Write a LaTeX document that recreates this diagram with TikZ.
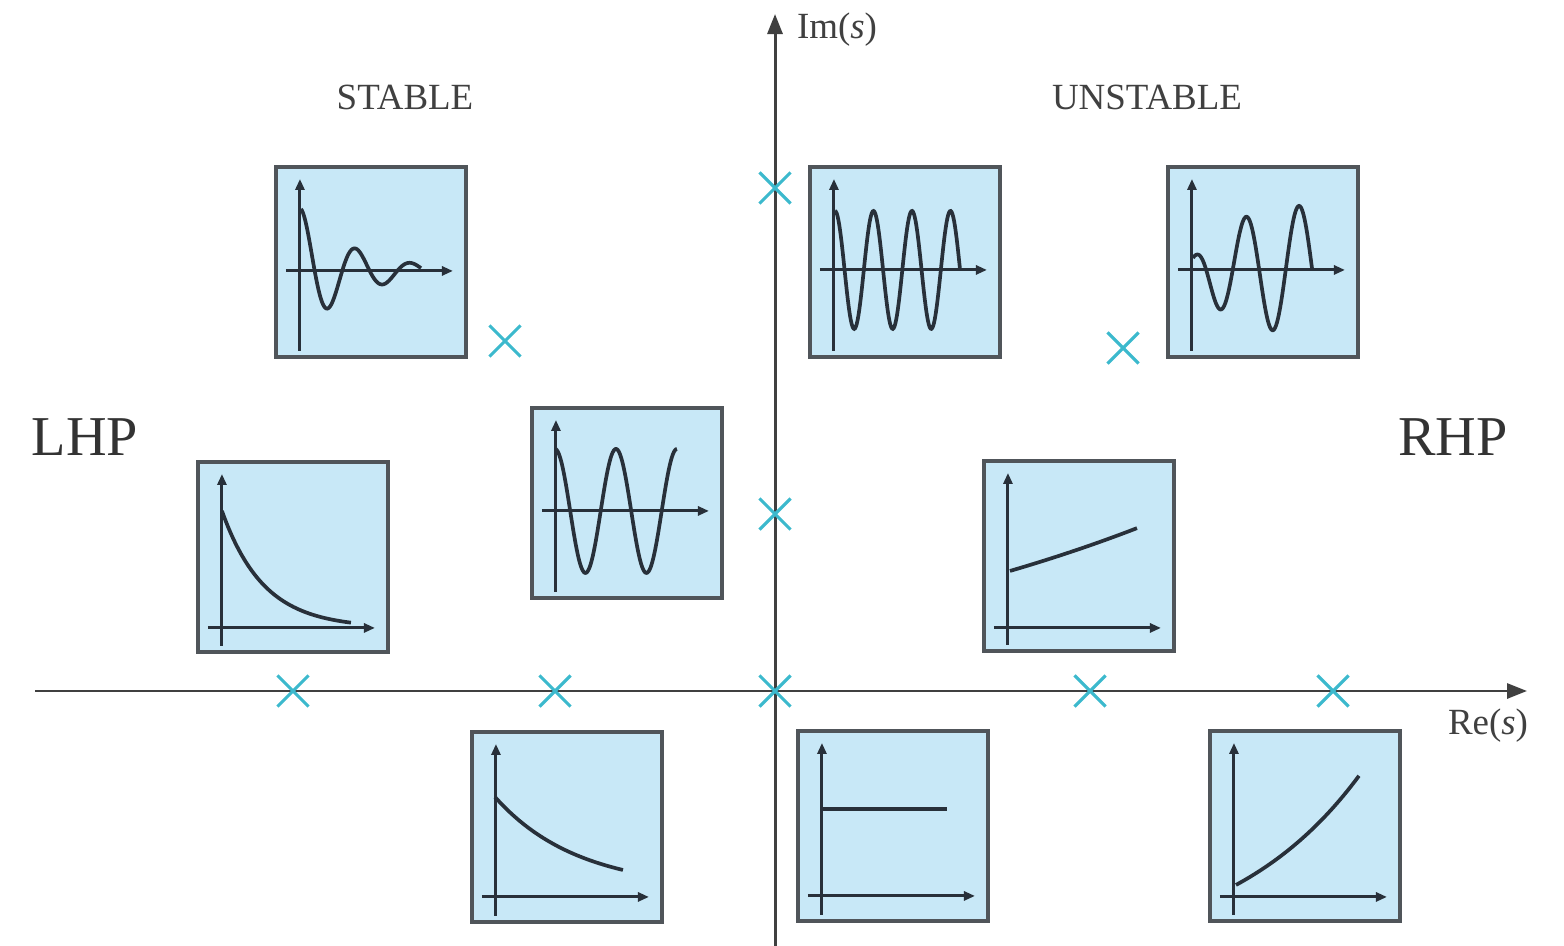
\documentclass[tikz,border=0pt]{standalone}
\usepackage{fontspec}
\setmainfont{Liberation Serif}
\usetikzlibrary{arrows.meta,shapes.misc}
\definecolor{boxblue}{RGB}{200,232,247}
\definecolor{boxedge}{RGB}{80,85,90}
\definecolor{polecyan}{RGB}{60,185,205}
\definecolor{inkdark}{RGB}{40,48,58}
\tikzset{
    plotbox/.style={draw=boxedge, fill=boxblue, line width=1pt, minimum size=1.9cm, inner sep=0pt, outer sep=0pt},
    pole/.style={cross out, draw=polecyan, line width=0.9pt, minimum size=0.28cm, inner sep=0pt},
    miniaxis/.style={draw=inkdark, line width=0.85pt, -{Triangle[length=1.1mm,width=0.9mm]}},
    response/.style={draw=inkdark, line width=1.05pt},
    mainaxis/.style={draw=black!75, line width=0.85pt, -{Triangle[length=2mm,width=1.5mm]}},
    smalllabel/.style={text=black!75, font=\fontsize{10.5}{12}\selectfont},
    biglabel/.style={text=black!80, font=\fontsize{16}{19}\selectfont}
}
\begin{document}
\begin{tikzpicture}[x=0.01cm, y=-0.01cm]
        \useasboundingbox (0,0) rectangle (1564,946);
        \coordinate (reL) at (35,691);
        \coordinate (reR) at (1527,691);
        \coordinate (imB) at (775,946);
        \coordinate (imT) at (775,14);
        \draw[mainaxis] (reL) -- (reR);
        \draw[mainaxis] (imB) -- (imT);
        \node[smalllabel] (imlabel) at (837,30) {Im(\textit{s})};
        \node[smalllabel] (relabel) at (1488,726) {Re(\textit{s})};
        \node[smalllabel] (stable) at (405,97) {STABLE};
        \node[smalllabel] (unstable) at (1147,97) {UNSTABLE};
        \node[biglabel] (lhp) at (85,437) {LHP};
        \node[biglabel] (rhp) at (1453,437) {RHP};
        \node[plotbox] (b1) at (371,262) {};
        \node[plotbox] (b2) at (905,262) {};
        \node[plotbox] (b3) at (1263,262) {};
        \node[plotbox] (b4) at (293,557) {};
        \node[plotbox] (b5) at (627,503) {};
        \node[plotbox] (b6) at (1079,556) {};
        \node[plotbox] (b7) at (567,827) {};
        \node[plotbox] (b8) at (893,826) {};
        \node[plotbox] (b9) at (1305,826) {};
        \foreach \b/\h in {b1/104, b2/103, b3/103, b5/103, b4/166, b6/167, b7/165, b8/165, b9/166} {
                \begin{scope}[shift={(\b.north west)}]
                    \draw[miniaxis] (24,184) -- (24,12);
                    \draw[miniaxis] (10,\h) -- (177,\h);
                \end{scope}
            }
        \begin{scope}[shift={(b1.north west)}]
            \draw[response] plot[domain=25:145, samples=120] (\x, {104 - 62*exp(-0.0186*(\x-25))*cos(6.5455*(\x-25))});
        \end{scope}
        \begin{scope}[shift={(b2.north west)}]
            \draw[response] plot[domain=25:150, samples=150] (\x, {103 - 59*cos(9.3506*(\x-25))});
        \end{scope}
        \begin{scope}[shift={(b3.north west)}]
            \draw[response] plot[domain=25:144, samples=130] (\x, {103 - (68 - 56*exp(-(\x-25)/40))*cos(6.7925*(\x-25))});
        \end{scope}
        \begin{scope}[shift={(b4.north west)}]
            \draw[response] plot[domain=24:153, samples=80] (\x, {166 - 117*exp(-0.024*(\x-24))});
        \end{scope}
        \begin{scope}[shift={(b5.north west)}]
            \draw[response] plot[domain=23:145, samples=130] (\x, {103 - 62*cos(5.9016*(\x-23))});
        \end{scope}
        \begin{scope}[shift={(b6.north west)}]
            \draw[response] plot[domain=26:153, samples=60] (\x, {243 - 133*exp(0.00219*(\x-26))});
        \end{scope}
        \begin{scope}[shift={(b7.north west)}]
            \draw[response] plot[domain=23:151, samples=60] (\x, {157.6 - 92.6*exp(-0.01213*(\x-23))});
        \end{scope}
        \begin{scope}[shift={(b8.north west)}]
            \draw[response] (23,78) -- (149,78);
        \end{scope}
        \begin{scope}[shift={(b9.north west)}]
            \draw[response] plot[domain=26:149, samples=60] (\x, {227.5 - 73.5*exp(0.0074*(\x-26))});
        \end{scope}
        \foreach \x/\y [count=\i] in {505/341, 775/188, 1123/348, 775/514, 293/691, 555/691, 775/691, 1090/691, 1333/691} {
                \node[pole] (p\i) at (\x,\y) {};
            }
    \end{tikzpicture}
\end{document}
